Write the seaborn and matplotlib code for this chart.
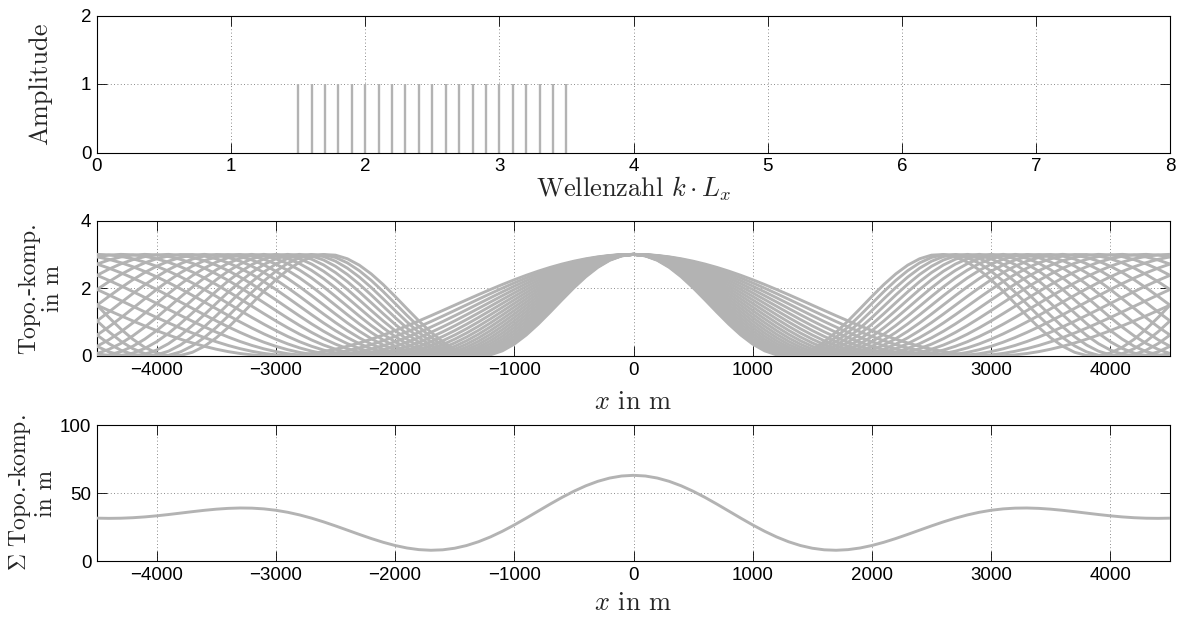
import numpy as np
import pandas as pd
import matplotlib
matplotlib.use("Agg")
import matplotlib.pyplot as plt
import seaborn as sns

# ---------------- data ----------------
wavenumbers = [1.5, 1.6, 1.7, 1.8, 1.9, 2.0, 2.1, 2.2, 2.3, 2.4, 2.5,
               2.6, 2.7, 2.8, 2.9, 3.0, 3.1, 3.2, 3.3, 3.4, 3.5]      # k * Lx
amplitudes = [1, 1, 1, 1, 1, 1, 1, 1, 1, 1, 1,
              1, 1, 1, 1, 1, 1, 1, 1, 1, 1]                           # spectrum
component_peak = 3.0          # peak height of each topography component (m)
domain_length = 9000.0        # Lx in m
x_grid = np.arange(-4500, 4501, 100)   # x positions in m

top_xticks = [0, 1, 2, 3, 4, 5, 6, 7, 8]
top_yticks = [0, 1, 2]
mid_xticks = [-4000, -3000, -2000, -1000, 0, 1000, 2000, 3000, 4000]
mid_yticks = [0, 2, 4]
bot_yticks = [0, 50, 100]

# components: raised cosines of wavenumber k over the domain
rows = []
for k, a in zip(wavenumbers, amplitudes):
    y = a * component_peak / 2.0 * (1 + np.cos(2 * np.pi * k * x_grid / domain_length))
    rows.append(pd.DataFrame({"x": x_grid, "y": y, "k": k}))
comp = pd.concat(rows, ignore_index=True)
total = comp.groupby("x", as_index=False)["y"].sum()
spec = pd.DataFrame({"k": wavenumbers, "amp": amplitudes})

# ---------------- style ----------------
sns.set_theme(style="ticks")
plt.rcParams["font.family"] = ["Liberation Sans", "DejaVu Sans"]
plt.rcParams["mathtext.fontset"] = "cm"
plt.rcParams["axes.unicode_minus"] = True

gray = "#b3b3b3"
big_font = dict(family="cmr10", size=19)
small_font = dict(family="cmr10", size=17)
tick_size = 13.5

fig = plt.figure(figsize=(11.8, 6.21), dpi=100)
L, W = 97 / 1180, 1073 / 1180
ax1 = fig.add_axes([L, (621 - 152.5) / 621, W, 137 / 621])
ax2 = fig.add_axes([L, (621 - 356) / 621, W, 135.5 / 621])
ax3 = fig.add_axes([L, (621 - 561) / 621, W, 136 / 621])


def style(ax):
    ax.set_axisbelow(True)
    ax.grid(True, linestyle=(0, (1, 3)), color="0.4", linewidth=0.6)
    for s in ax.spines.values():
        s.set_visible(True)
        s.set_color("black")
        s.set_linewidth(0.8)
    ax.tick_params(direction="in", top=True, right=True, length=7, width=0.6,
                   labelsize=tick_size, pad=4, colors="black")
    ax.set_facecolor("white")


# top: spectrum (stems)
ax1.vlines(spec["k"], 0, spec["amp"], color=gray, linewidth=1.7, zorder=2)
ax1.set_xlim(0, 8)
ax1.set_ylim(0, 2)
ax1.set_xticks(top_xticks)
ax1.set_yticks(top_yticks)
style(ax1)
ax1.set_xlabel(r"Wellenzahl $k \cdot L_x$", va="baseline", **big_font)
ax1.set_ylabel("Amplitude", **big_font)

# middle: components
sns.lineplot(data=comp, x="x", y="y", units="k", estimator=None, color=gray,
             linewidth=2.1, ax=ax2, zorder=3, legend=False)
ax2.set_xlim(-4500, 4500)
ax2.set_ylim(0, 4)
ax2.set_xticks(mid_xticks)
ax2.set_yticks(mid_yticks)
style(ax2)
ax2.set_xlabel(r"$x$ in m", va="baseline", **big_font)
ax2.set_ylabel("Topo.-komp.\nin m", linespacing=1.1, **small_font)

# bottom: sum
sns.lineplot(data=total, x="x", y="y", color=gray, linewidth=2.1, ax=ax3,
             zorder=3, legend=False)
ax3.set_xlim(-4500, 4500)
ax3.set_ylim(0, 100)
ax3.set_xticks(mid_xticks)
ax3.set_yticks(bot_yticks)
style(ax3)
ax3.set_xlabel(r"$x$ in m", va="baseline", **big_font)
ax3.set_ylabel("$\\Sigma$ Topo.-komp.\nin m", linespacing=1.1, **small_font)

ax1.xaxis.set_label_coords(0.5, (152.5 - 197) / 137)
ax2.xaxis.set_label_coords(0.5, (356 - 409) / 135.5)
ax3.xaxis.set_label_coords(0.5, (561 - 610) / 136)
ax1.yaxis.set_label_coords(-0.042, 0.5)
ax2.yaxis.set_label_coords(-0.031, 0.5)
ax3.yaxis.set_label_coords(-0.037, 0.5)

fig.savefig("out.png", dpi=100, facecolor="white")
